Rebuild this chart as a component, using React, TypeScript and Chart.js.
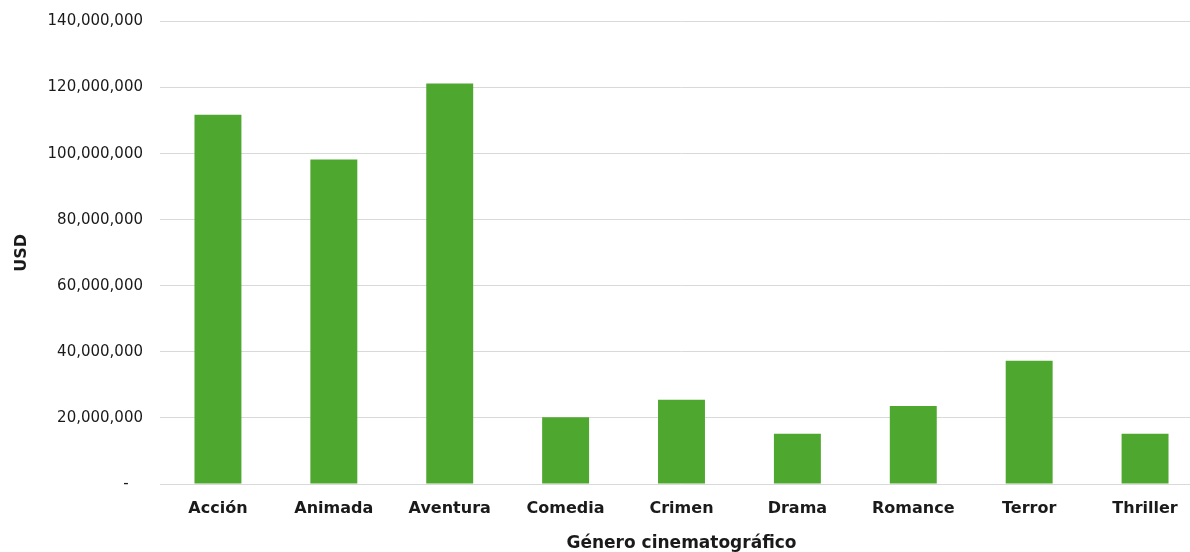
import React, { useEffect, useRef } from "react";
import { Chart, registerables } from "chart.js";

Chart.register(...registerables);

const categories = ["Acción", "Animada", "Aventura", "Comedia", "Crimen", "Drama", "Romance", "Terror", "Thriller"];
const revenue = [111800000, 98200000, 121200000, 20200000, 25500000, 15200000, 23600000, 37300000, 15200000];
const yTicks = [0, 20000000, 40000000, 60000000, 80000000, 100000000, 120000000, 140000000];
const xTitle = "Género cinematográfico";
const yTitle = "USD";

const FONT = "'DejaVu Sans', sans-serif";
const W = 1203;
const H = 560;

export default function App() {
  const ref = useRef<HTMLCanvasElement | null>(null);

  useEffect(() => {
    if (!ref.current) return;
    const chart = new Chart(ref.current, {
      type: "bar",
      data: {
        labels: categories,
        datasets: [
          {
            data: revenue,
            backgroundColor: "#4EA72E",
            borderWidth: 0,
            categoryPercentage: 1,
            barPercentage: 0.405,
          },
        ],
      },
      options: {
        animation: false,
        responsive: false,
        maintainAspectRatio: false,
        layout: { padding: { top: 21.5, right: 0, bottom: 0, left: 0 } },
        plugins: { legend: { display: false }, tooltip: { enabled: false } },
        scales: {
          x: {
            grid: { display: false, drawTicks: false },
            border: { display: false },
            ticks: {
              color: "#1a1a1a",
              font: { family: FONT, size: 16, weight: "bold" },
              padding: 15,
              maxRotation: 0,
              autoSkip: false,
            },
            title: {
              display: true,
              text: xTitle,
              color: "#1a1a1a",
              font: { family: FONT, size: 17, weight: "bold" },
              padding: { top: 0, bottom: 6 },
            },
            afterFit: (scale: any) => {
              scale.height = H - 484;
              scale.paddingLeft = 0;
              scale.paddingRight = 0;
            },
          },
          y: {
            min: 0,
            max: 140000000,
            afterBuildTicks: (scale: any) => {
              scale.ticks = yTicks.map((v) => ({ value: v }));
            },
            grid: { color: "#d9d9d9", lineWidth: 1, drawTicks: false },
            border: { display: false },
            ticks: {
              color: "#1a1a1a",
              font: { family: FONT, size: 15 },
              padding: 17,
              callback: (v: any) => (Number(v) === 0 ? "-   " : Number(v).toLocaleString("en-US")),
            },
            title: {
              display: true,
              text: yTitle,
              color: "#1a1a1a",
              font: { family: FONT, size: 16, weight: "bold" },
              padding: { top: 12, bottom: 0 },
            },
            afterFit: (scale: any) => {
              scale.width = 160;
              scale.paddingTop = 0;
              scale.paddingBottom = 0;
            },
          },
        },
      },
    });
    return () => chart.destroy();
  }, []);

  return (
    <div style={{ position: "fixed", left: 0, top: 0, width: 1190, height: 552, overflow: "hidden", background: "#fff" }}>
      <canvas ref={ref} width={W} height={H} style={{ display: "block", width: W, height: H }} />
    </div>
  );
}
